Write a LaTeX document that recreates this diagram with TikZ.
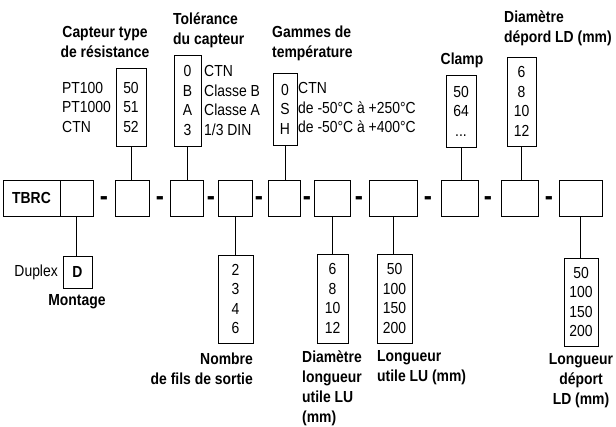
\documentclass[tikz,border=0pt]{standalone}
\usepackage{fontspec}
\setmainfont{Liberation Sans}[FakeStretch=0.87]
\begin{document}
\begin{tikzpicture}[x=1pt,y=-1pt,
  every node/.style={inner sep=0pt},
  txt/.style={font=\fontsize{16}{19.5}\selectfont},
  ttl/.style={font=\fontsize{16}{20}\selectfont\bfseries},
  cell/.style={draw, line width=0.9pt, minimum height=36pt},
  opt/.style={draw, line width=0.9pt, txt, align=center},
  sep/.style={font=\fontsize{28}{28}\selectfont\bfseries, anchor=base},
  conn/.style={line width=0.9pt}]
\useasboundingbox (0,0) rectangle (616,426);

% main row
\node[cell, minimum width=57pt] (b0) at (31.5,198) {};
\node[ttl] at (b0.center) {TBRC};
\node[cell, minimum width=33pt] (b1) at (76.5,198) {};
\node[cell, minimum width=34pt] (b2) at (132,198) {};
\node[cell, minimum width=33pt] (b3) at (186.5,198) {};
\node[cell, minimum width=34pt] (b4) at (235,198) {};
\node[cell, minimum width=32pt] (b5) at (284,198) {};
\node[cell, minimum width=36pt] (b6) at (332,198) {};
\node[cell, minimum width=48pt] (b7) at (393,198) {};
\node[cell, minimum width=37pt] (b8) at (459.5,198) {};
\node[cell, minimum width=37pt] (b9) at (519.5,198) {};
\node[cell, minimum width=43pt] (b10) at (580.5,198) {};

\node[sep] (s1) at (104,205.5) {-};
\node[sep] (s2) at (160,205.5) {-};
\node[sep] (s3) at (211,205.5) {-};
\node[sep] (s4) at (259,205.5) {-};
\node[sep] (s5) at (307,205.5) {-};
\node[sep] (s6) at (359,205.5) {-};
\node[sep] (s7) at (428,205.5) {-};
\node[sep] (s8) at (488,205.5) {-};
\node[sep] (s9) at (549,205.5) {-};

% top options
\node[opt, minimum width=30pt, minimum height=78pt] (tA) at (131,107) {50\\51\\52};
\node[txt, align=left, anchor=west] (lA) at (62,107) {PT100\\PT1000\\CTN};
\node[ttl, align=center] (hA) at (105,42) {Capteur type\\de résistance};

\node[opt, minimum width=27pt, minimum height=91pt] (tB) at (187.5,100.5) {0\\B\\A\\3};
\node[txt, align=left, anchor=west] (lB) at (204,100.5) {CTN\\Classe B\\Classe A\\1/3 DIN};
\node[ttl, align=left, anchor=west] (hB) at (173,30) {Tolérance\\du capteur};

\node[opt, minimum width=24pt, minimum height=72pt] (tC) at (285,109) {0\\S\\H};
\node[txt, align=left, anchor=west] (lC) at (298,107.5) {CTN\\de -50°C à +250°C\\de -50°C à +400°C};
\node[ttl, align=left, anchor=west] (hC) at (272,43) {Gammes de\\température};

\node[opt, minimum width=30pt, minimum height=72pt] (tD) at (461,111) {50\\64\\...};
\node[ttl] (hD) at (462,60) {Clamp};

\node[opt, minimum width=29pt, minimum height=89pt] (tE) at (521.5,101.5) {6\\8\\10\\12};
\node[ttl, align=left, anchor=west] (hE) at (504,28) {Diamètre\\dépord LD (mm)};

\draw[conn] (tA.south) -- (tA.south |- b2.north);
\draw[conn] (tB.south) -- (tB.south |- b3.north);
\draw[conn] (tC.south) -- (tC.south |- b5.north);
\draw[conn] (tD.south) -- (tD.south |- b8.north);
\draw[conn] (tE.south) -- (tE.south |- b9.north);

% bottom options
\node[draw, line width=0.9pt, minimum width=29pt, minimum height=32pt, ttl] (bD) at (77.5,272) {D};
\node[txt, anchor=east] (lD) at (58,272) {Duplex};
\node[ttl] (hD2) at (77,302) {Montage};

\node[opt, minimum width=35pt, minimum height=88pt] (bN) at (235.5,299) {2\\3\\4\\6};
\node[ttl, align=right, anchor=east] (hN) at (253,369) {Nombre\\de fils de sortie};

\node[opt, minimum width=31pt, minimum height=89pt] (bL) at (332.5,298.5) {6\\8\\10\\12};
\node[ttl, align=left, anchor=west] (hL) at (302,388) {Diamètre\\longueur\\utile LU\\(mm)};

\node[opt, minimum width=35pt, minimum height=89pt] (bU) at (394.5,298.5) {50\\100\\150\\200};
\node[ttl, align=left, anchor=west] (hU) at (377,368) {Longueur\\utile LU (mm)};

\node[opt, minimum width=34pt, minimum height=88pt] (bR) at (581,302) {50\\100\\150\\200};
\node[ttl, align=center] (hR) at (581,380.5) {Longueur\\déport\\LD (mm)};

\draw[conn] (b1.south) -- (b1.south |- bD.north);
\draw[conn] (b4.south) -- (b4.south |- bN.north);
\draw[conn] (b6.south) -- (b6.south |- bL.north);
\draw[conn] (b7.south) -- (b7.south |- bU.north);
\draw[conn] (b10.south) -- (b10.south |- bR.north);
\end{tikzpicture}
\end{document}
